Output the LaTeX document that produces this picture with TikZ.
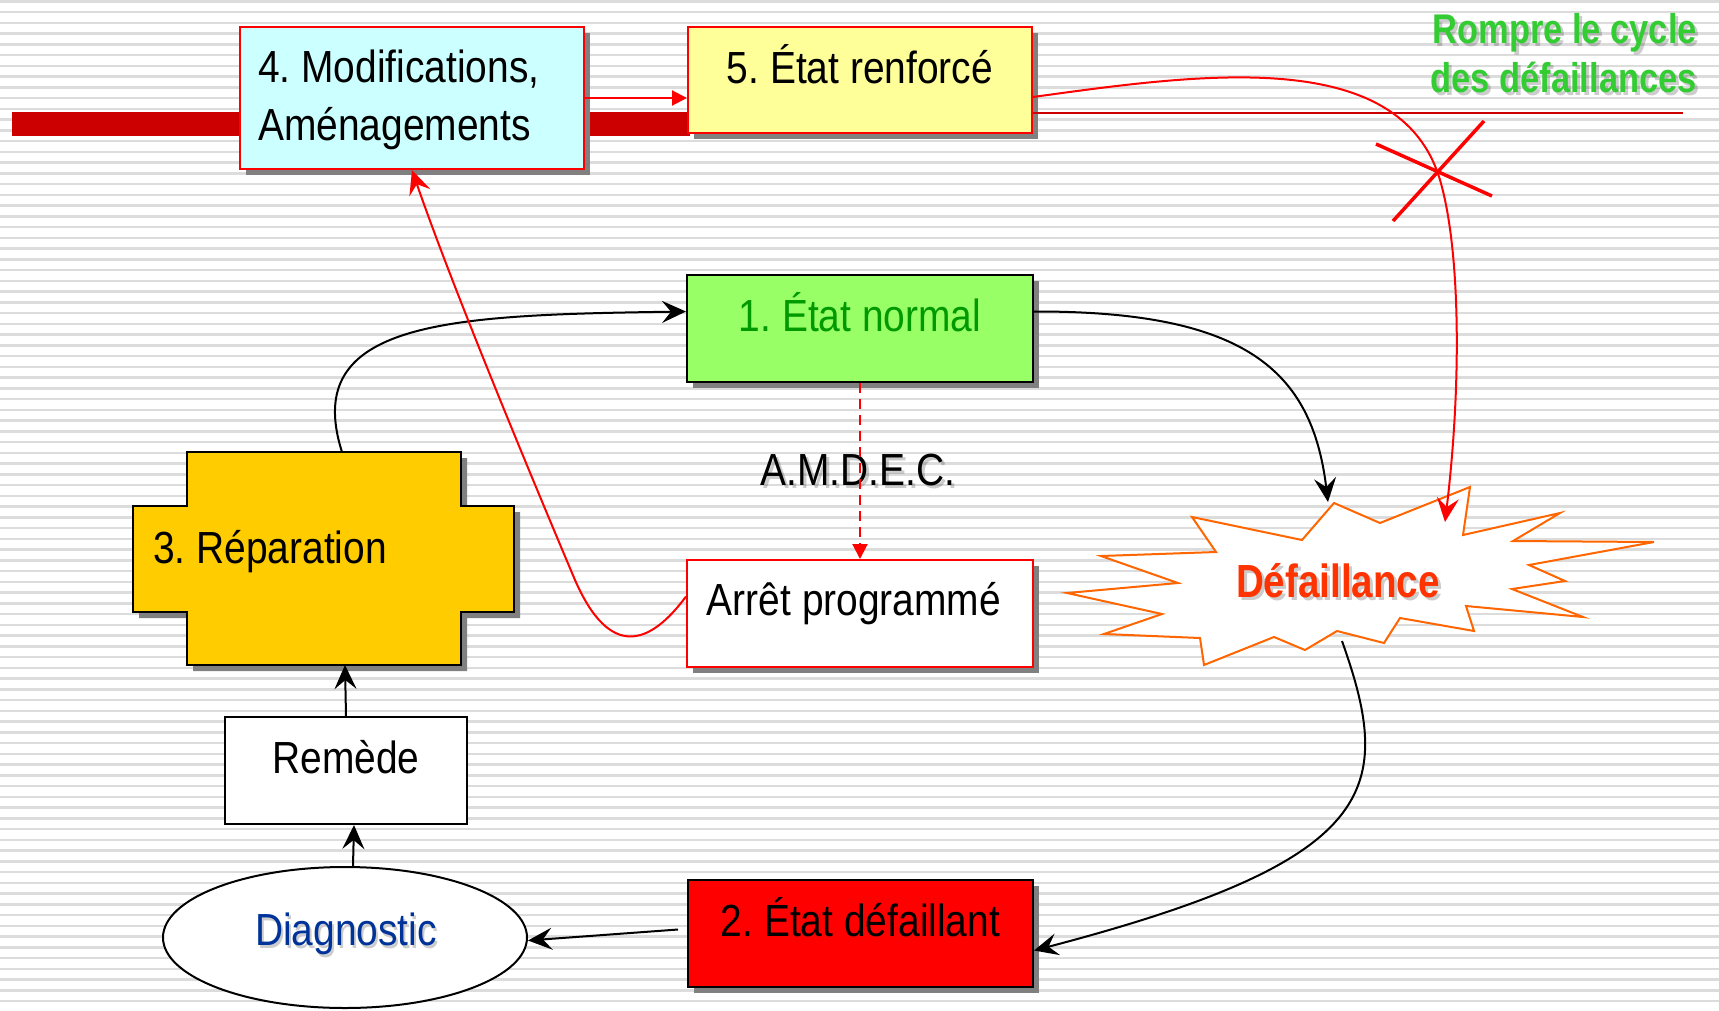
\documentclass[tikz,border=0pt]{standalone}
\usepackage{fontspec}
\setmainfont{Liberation Sans}
\newfontfamily\nar[FakeStretch=0.865]{Liberation Sans}
\newfontfamily\narb[FakeStretch=0.83]{Liberation Sans}
\usetikzlibrary{arrows.meta,shapes.geometric,shadows}
\definecolor{cyanbox}{HTML}{CCFFFF}
\definecolor{yelbox}{HTML}{FFFF99}
\definecolor{grnbox}{HTML}{99FF66}
\definecolor{grntxt}{HTML}{009900}
\definecolor{redbox}{HTML}{FF0000}
\definecolor{orgbox}{HTML}{FFCC00}
\definecolor{diagblue}{HTML}{003399}
\definecolor{burstcol}{HTML}{FF6600}
\definecolor{deftxt}{HTML}{FF3300}
\definecolor{rompcol}{HTML}{33CC33}
\definecolor{darkbar}{HTML}{CC0000}
\definecolor{stripegray}{HTML}{DCDCDC}
\definecolor{shadowgray}{HTML}{808080}
\frenchspacing
\begin{document}
\begin{tikzpicture}[x=1pt,y=-1pt,
  shadowed/.style={drop shadow={shadow xshift=6pt,shadow yshift=-6pt,fill=shadowgray,opacity=1}},
  statebox/.style={draw,line width=2pt,minimum width=346pt,minimum height=107pt,anchor=north west,inner sep=0pt,text height=24pt,text depth=18pt,font=\nar\fontsize{45pt}{58pt}\selectfont},
  regtext/.style={inner sep=0pt,font=\nar\fontsize{45pt}{58pt}\selectfont},
  boldtext/.style={inner sep=0pt,font=\narb\bfseries\fontsize{41.5pt}{49pt}\selectfont},
  deftext/.style={inner sep=0pt,font=\narb\bfseries\fontsize{46.5pt}{56pt}\selectfont},
  txtshadow/.style={text=black,opacity=0.2},
  blackarrow/.style={draw=black,line width=2pt,-{Stealth[length=24pt,width=22pt,inset=9pt]}},
  redarrow/.style={draw=red,line width=2pt,-{Stealth[length=24pt,width=22pt,inset=9pt]}},
  smallred/.style={draw=red,line width=2pt,-{Triangle[length=15pt,width=15pt]}},
]
\useasboundingbox (0,0) rectangle (1719,1010);
% background
\fill[white] (0,0) rectangle (1719,1010);
\begin{scope}
\clip (0,0) rectangle (1719,1010);
\foreach \k in {0,...,94} { \fill[stripegray] (0,{\k*10.75}) rectangle (1719,{\k*10.75+2.6}); }
\end{scope}

% thick red bar
\fill[darkbar] (12,112) rectangle (690,136);

% boxes
\node[statebox,fill=cyanbox,draw=red,minimum width=344pt,minimum height=142pt,shadowed] (b4) at (239,26) {};
\node[statebox,fill=yelbox,draw=red,minimum width=344pt,minimum height=106pt,shadowed] (b5) at (687,26) {5. État renforcé};
\node[statebox,fill=grnbox,draw=black,text=grntxt,shadowed] (b1) at (686,274) {1. État normal};
\node[statebox,fill=white,draw=red,shadowed] (arret) at (686,559) {};
\node[statebox,fill=redbox,draw=black,minimum width=345pt,shadowed] (b2) at (687,879) {2. État défaillant};
\node[statebox,fill=white,draw=black,minimum width=242pt] (remede) at (224,716) {Remède};

\node[regtext,anchor=base west] (t4a) at (258,82) {4. Modifications,};
\node[regtext,anchor=base west] (t4b) at (258,140) {Aménagements};
\node[regtext,anchor=base] (tarret) at (854,615) {Arrêt programmé};

% thin red line
\coordinate (lineend) at (1683,113);
\draw[darkbar,line width=2.5pt] (lineend -| b5.east) -- (lineend);

% 3. Reparation cross shape
\filldraw[fill=orgbox,draw=black,line width=2pt,shadowed] (187,452) -- (461,452) -- (461,506) -- (514,506) -- (514,612) -- (461,612) -- (461,665) -- (187,665) -- (187,612) -- (133,612) -- (133,506) -- (187,506) -- cycle;
\node[regtext,anchor=base west] (t3) at (153,563) {3. Réparation};
\coordinate (r3top) at (342,452);
\coordinate (r3bot) at (345,665);

% Diagnostic ellipse
\node[ellipse,draw=black,fill=white,line width=2pt,minimum width=364pt,minimum height=141pt,inner sep=0pt] (diag) at (345,937.5) {};
\node[regtext,anchor=base,txtshadow] (diags) at (348,948) {Diagnostic};
\node[regtext,anchor=base,text=diagblue] (diagt) at (346,945) {Diagnostic};

% Defaillance starburst
\filldraw[fill=white,draw=burstcol,line width=2pt,line join=miter]
 (1192,517) -- (1302,540) -- (1334,503) -- (1380,523) -- (1470,487) -- (1463,535) -- (1560,513) -- (1513,541) -- (1654,542) -- (1529,565) -- (1565,581) -- (1512,589) -- (1583,617) -- (1466,606) -- (1474,631) -- (1400,618) -- (1384,643) -- (1337,631) -- (1305,650) -- (1274,637) -- (1204,665) -- (1200,638) -- (1104,634) -- (1162,614) -- (1067,593) -- (1178,583) -- (1101,556) -- (1216,552) -- cycle;
\node[deftext,anchor=base,txtshadow] (defs) at (1341,600) {Défaillance};
\node[deftext,anchor=base,text=deftxt] (deft) at (1338,597) {Défaillance};
\coordinate (dIn) at (1328,502);
\coordinate (dRed) at (1445,522);
\coordinate (dBot) at (1342,641);

% Rompre le cycle
\node[boldtext,anchor=base east,txtshadow] (rc1s) at (1700,46) {Rompre le cycle};
\node[boldtext,anchor=base east,txtshadow] (rc2s) at (1700,95) {des défaillances};
\node[boldtext,anchor=base east,text=rompcol] (rc1) at (1697,43) {Rompre le cycle};
\node[boldtext,anchor=base east,text=rompcol] (rc2) at (1697,92) {des défaillances};

% AMDEC
\node[regtext,anchor=base,txtshadow] (amdecs) at (861,488) {A.M.D.E.C.};
\node[regtext,anchor=base] (amdec) at (858,485) {A.M.D.E.C.};

% connectors
\draw[smallred] (b4.east) -- (b4.east -| b5.west);
\draw[smallred,dash pattern=on 10pt off 6pt] (b1.south) -- (arret.north);
\draw[blackarrow] ([yshift=17pt]b1.east) .. controls (1245,311) and (1312,370) .. (dIn);
\draw[blackarrow] (dBot) .. controls (1395,790) and (1380,860) .. ([yshift=-17pt]b2.east);
\draw[blackarrow] ([xshift=-9pt,yshift=4pt]b2.west) -- ([yshift=-3pt]diag.east);
\draw[blackarrow] ([xshift=8pt]diag.north) -- ([xshift=8pt]remede.south);
\draw[blackarrow] (remede.north) -- (r3bot);
\draw[blackarrow] (r3top) .. controls (300,320) and (450,315) .. ([yshift=17pt]b1.west);
\draw[redarrow] ([yshift=17pt]arret.west) .. controls (650,645) and (610,660) .. (575,580) .. controls (520,450) and (450,280) .. (b4.south);
\draw[redarrow] ([yshift=-17pt]b5.east) .. controls (1200,74) and (1400,45) .. (1440,180) .. controls (1460,248) and (1462,380) .. (dRed);

% red cross
\draw[red,line width=3.5pt] (1376,144) -- (1492,196);
\draw[red,line width=3.5pt] (1484,121) -- (1393,221);
\end{tikzpicture}
\end{document}
